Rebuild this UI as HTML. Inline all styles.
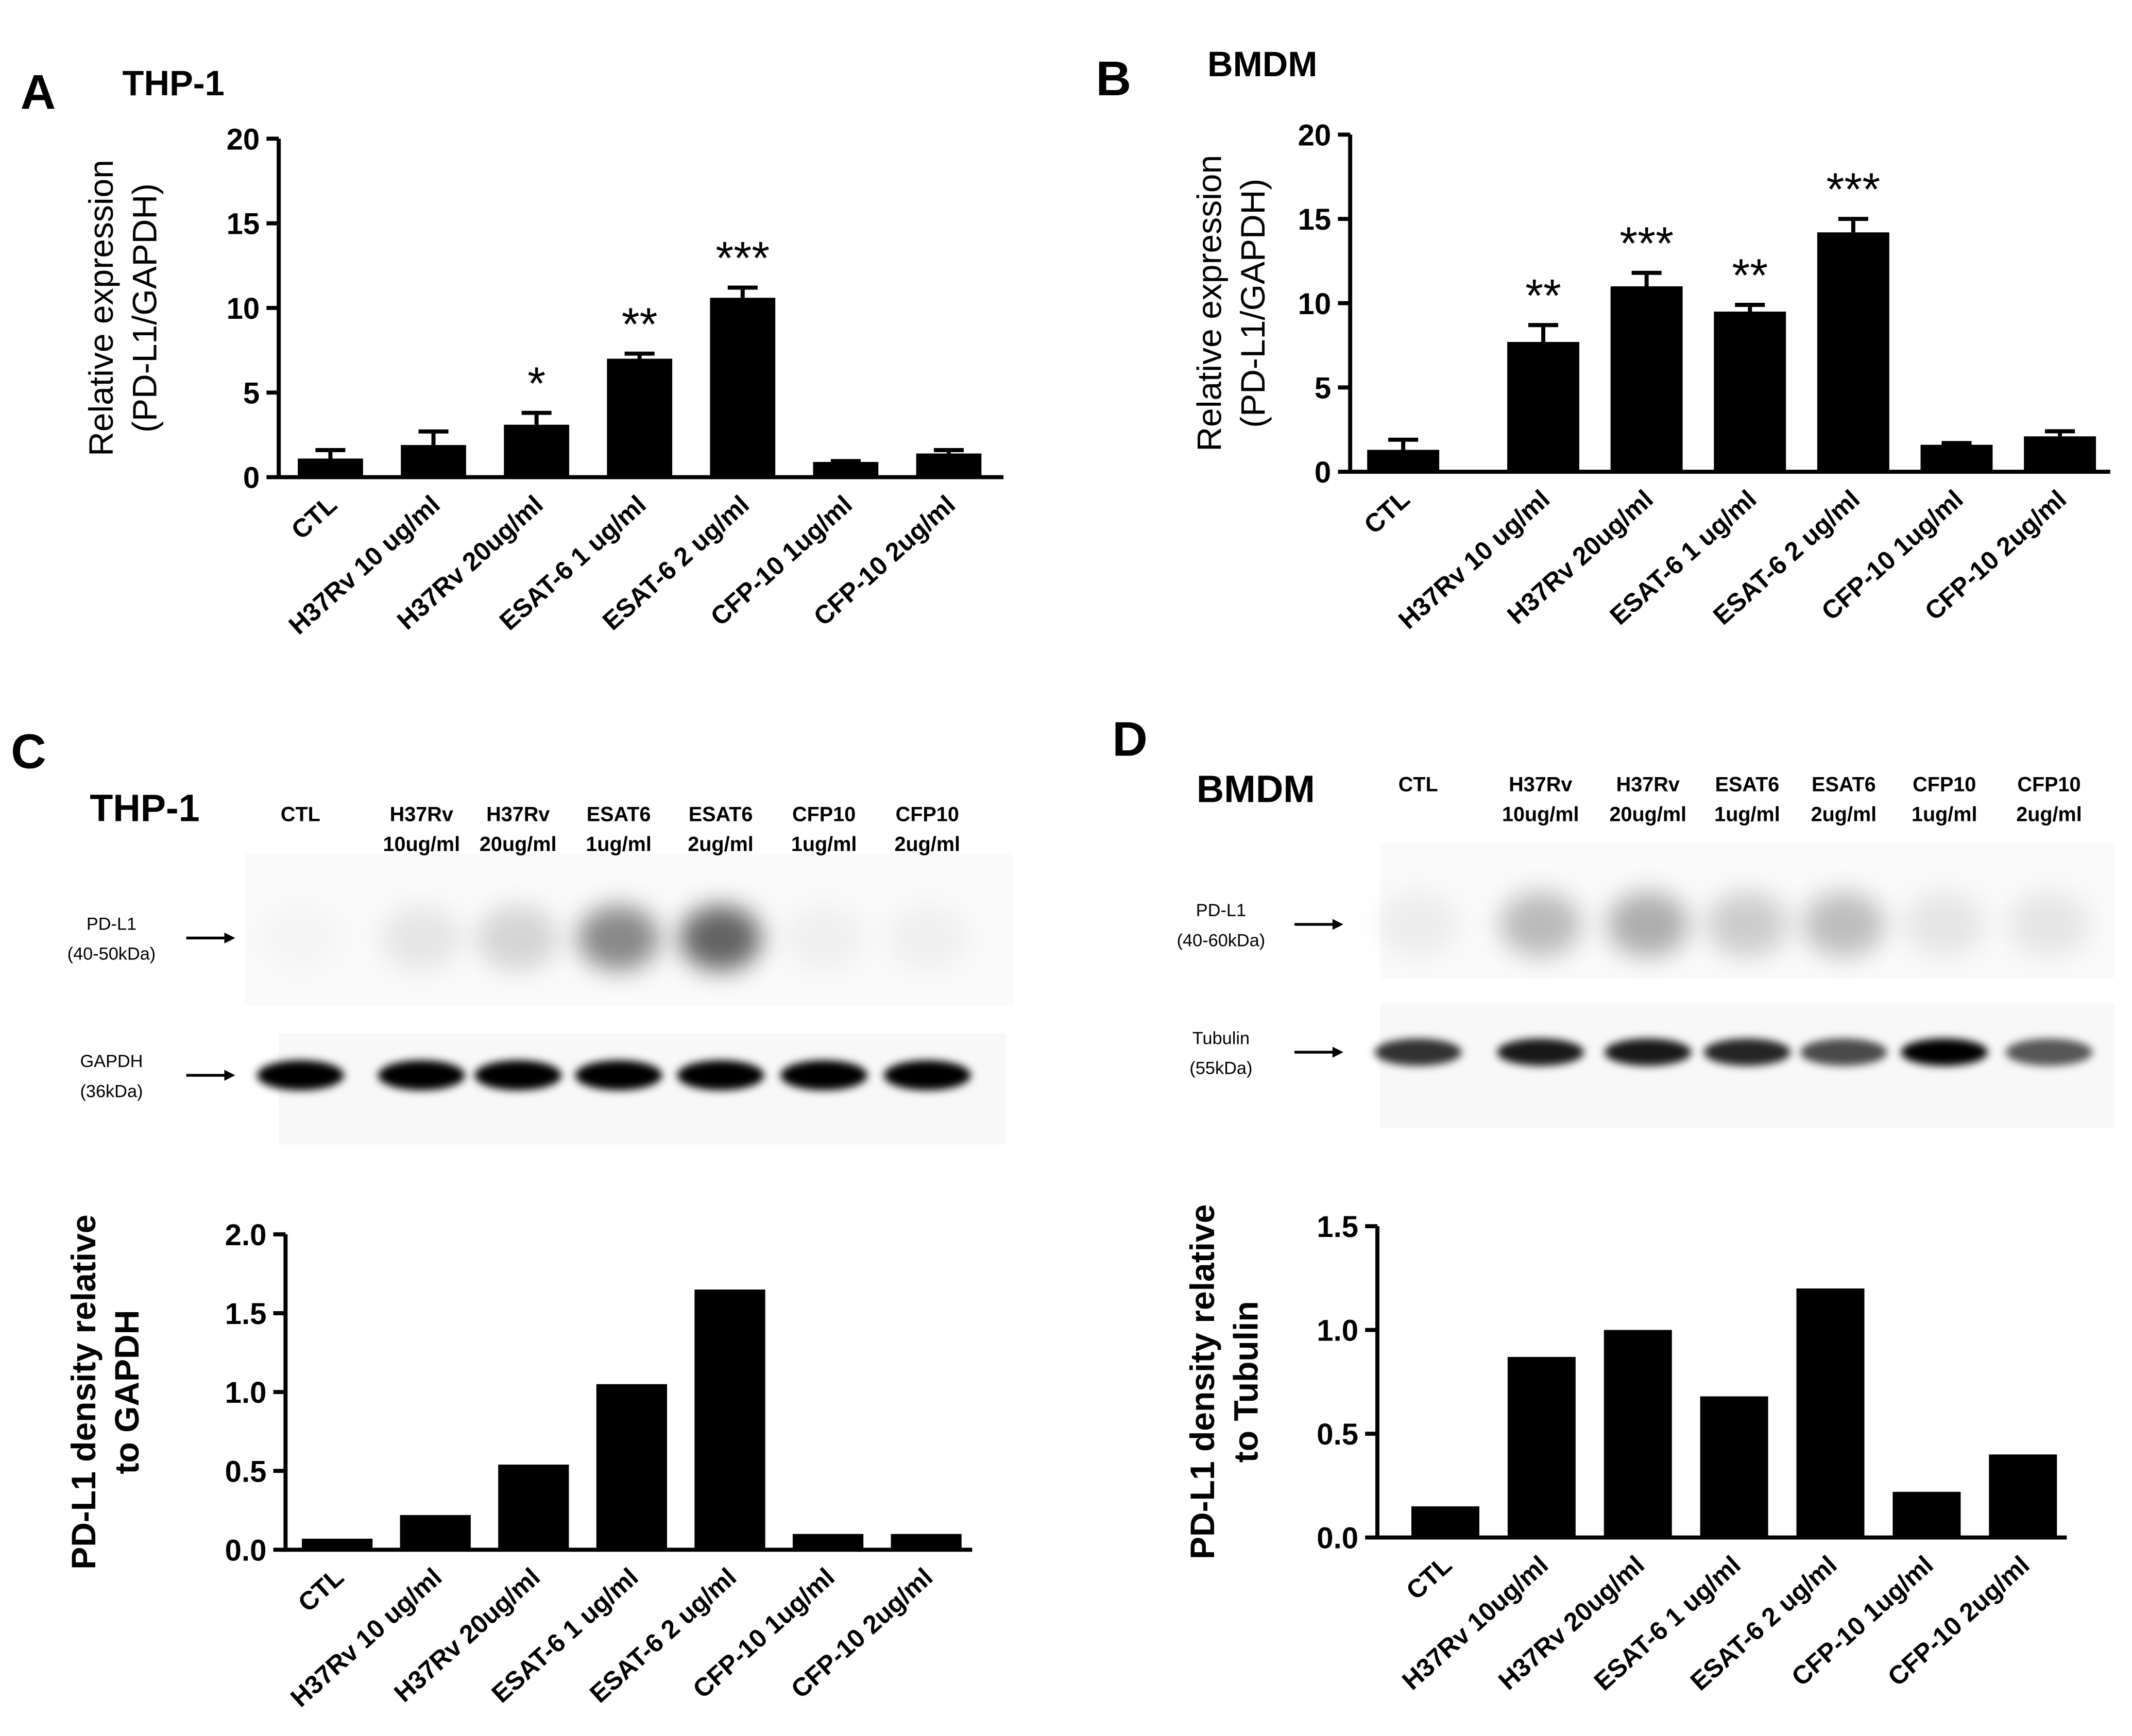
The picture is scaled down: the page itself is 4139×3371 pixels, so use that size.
<!DOCTYPE html>
<html><head><meta charset="utf-8"><style>
html,body{margin:0;padding:0;background:#fff}
svg{display:block}
text{font-family:"Liberation Sans",Arial,sans-serif;fill:#000}
</style></head><body>
<svg id="fig" width="4139" height="3371" viewBox="0 0 1568 1277" xmlns="http://www.w3.org/2000/svg">
<defs>
<filter id="blur3" x="-50%" y="-50%" width="200%" height="200%"><feGaussianBlur stdDeviation="3"/></filter>
<filter id="blur8" x="-50%" y="-50%" width="200%" height="200%"><feGaussianBlur stdDeviation="9"/></filter>
</defs>
<g id="root"></g>
</svg>
<script>
const catsA = ["CTL","H37Rv 10 ug/ml","H37Rv 20ug/ml","ESAT-6 1 ug/ml","ESAT-6 2 ug/ml","CFP-10 1ug/ml","CFP-10 2ug/ml"];
const valsA = [1.1,1.9,3.1,7.0,10.6,0.9,1.4];
const errA = [0.5,0.8,0.7,0.3,0.6,0.05,0.2];
const starsA = ["","","*","**","***","",""];
const catsB = ["CTL","H37Rv 10 ug/ml","H37Rv 20ug/ml","ESAT-6 1 ug/ml","ESAT-6 2 ug/ml","CFP-10 1ug/ml","CFP-10 2ug/ml"];
const valsB = [1.3,7.7,11.0,9.5,14.2,1.6,2.1];
const errB = [0.6,1.0,0.8,0.4,0.8,0.1,0.3];
const starsB = ["","**","***","**","***","",""];
const catsC = ["CTL","H37Rv 10 ug/ml","H37Rv 20ug/ml","ESAT-6 1 ug/ml","ESAT-6 2 ug/ml","CFP-10 1ug/ml","CFP-10 2ug/ml"];
const valsC = [0.07,0.22,0.54,1.05,1.65,0.1,0.1];
const catsD = ["CTL","H37Rv 10ug/ml","H37Rv 20ug/ml","ESAT-6 1 ug/ml","ESAT-6 2 ug/ml","CFP-10 1ug/ml","CFP-10 2ug/ml"];
const valsD = [0.15,0.87,1.0,0.68,1.2,0.22,0.40];
const ticksA = [0,5,10,15,20];
const ticksC = ["0.0","0.5","1.0","1.5","2.0"];
const ticksD = ["0.0","0.5","1.0","1.5"];
const blotCPD = [0.02,0.08,0.15,0.45,0.6,0.04,0.04];
const blotCG = [1,1,1,1,1,1,1];
const blotDPD = [0.05,0.25,0.3,0.18,0.24,0.08,0.08];
const blotDT = [0.8,0.9,0.9,0.85,0.7,1,0.65];

const NS="http://www.w3.org/2000/svg";
const root=document.getElementById('root');
function el(tag,attrs,parent,txt){const e=document.createElementNS(NS,tag);for(const k in attrs)e.setAttribute(k,attrs[k]);if(txt!==undefined)e.textContent=txt;(parent||root).appendChild(e);return e;}

function chart(cfg){
  const g=el('g',{});
  
  
  const y=v=>cfg.y0-(v/cfg.ymax)*(cfg.y0-cfg.ytop);
  const x=i=>(i===0&&cfg.first!==undefined)?cfg.first:cfg.x0c+i*cfg.step;
  const ax=el('path',{d:`M${cfg.ax},${cfg.ytop} V${cfg.y0} H${cfg.axEnd}`,stroke:'#000','stroke-width':3,fill:'none'},g);
  
  
  cfg.ticks.forEach(t=>{const v=parseFloat(t);
    el('line',{x1:cfg.ax-9,x2:cfg.ax,y1:y(v),y2:y(v),stroke:'#000','stroke-width':3},g);
    const tl=el('text',{x:cfg.ax-14,y:y(v)+8,'text-anchor':'end','font-size':22,'font-weight':'bold'},g,String(t));
    
    
  });
  cfg.vals.forEach((v,i)=>{
    const cx=x(i);
    const b=el('rect',{x:cx-cfg.bw/2,y:y(v),width:cfg.bw,height:cfg.y0-y(v),fill:'#000'},g);
    
    
    if(cfg.err){const e=cfg.err[i];
      el('line',{x1:cx,x2:cx,y1:y(v),y2:y(v+e),stroke:'#000','stroke-width':3},g);
      el('line',{x1:cx-11,x2:cx+11,y1:y(v+e),y2:y(v+e),stroke:'#000','stroke-width':3},g);
      if(cfg.stars[i]){const s=el('text',{x:cx,y:y(v+e)-10,'text-anchor':'middle','font-size':34},g,cfg.stars[i]);
        
        }
    }
    const lx=cx+6, ly=cfg.y0+22;
    const t=el('text',{x:lx,y:ly,'text-anchor':'end','font-size':19,'font-weight':'bold',transform:`rotate(-42 ${lx} ${ly})`},g,cfg.cats[i]);
    
    
  });
  const tx=cfg.titleX, ty=(cfg.y0+cfg.ytop)/2;
  const yt=el('text',{transform:`translate(${tx},${ty}) rotate(-90)`,'text-anchor':'middle','font-size':25,'font-weight':cfg.bold?'bold':'normal'},g);
  
  
  el('tspan',{x:0,dy:0},yt,cfg.t1);
  el('tspan',{x:0,dy:32},yt,cfg.t2);
}
chart({name:'chart-a',cats:catsA,vals:valsA,err:errA,stars:starsA,ticks:ticksA,ymax:20,y0:351,ytop:102,ax:205,axEnd:738,x0c:243,step:75.8,bw:48,titleX:83,t1:'Relative expression',t2:'(PD-L1/GAPDH)'});
chart({name:'chart-b',cats:catsB,vals:valsB,err:errB,stars:starsB,ticks:ticksA,ymax:20,y0:347,ytop:99,ax:993,axEnd:1552,first:1032,x0c:1059,step:76,bw:53,titleX:898,t1:'Relative expression',t2:'(PD-L1/GAPDH)'});
chart({name:'chart-c',cats:catsC,vals:valsC,ticks:ticksC,ymax:2,y0:1140,ytop:908,ax:210,axEnd:715,x0c:248,step:72.2,bw:52,titleX:70,bold:true,t1:'PD-L1 density relative',t2:'to GAPDH'});
chart({name:'chart-d',cats:catsD,vals:valsD,ticks:ticksD,ymax:1.5,y0:1131,ytop:902,ax:1013,axEnd:1520,x0c:1063,step:70.8,bw:50,titleX:893,bold:true,t1:'PD-L1 density relative',t2:'to Tubulin'});

function lbl(x,y,s,t,w,name,anchor){const e=el('text',{x:x,y:y,'font-size':s,'font-weight':w||'bold','text-anchor':anchor||'start'},root,t);return e;}
lbl(15,80,36,'A','bold','panel-label-a');lbl(90,70,26,'THP-1','bold','panel-title-a');
lbl(806,70,36,'B','bold','panel-label-b');lbl(888,56,26,'BMDM','bold','panel-title-b');
lbl(8,565,36,'C','bold','panel-label-c');lbl(66,604,28,'THP-1','bold','panel-title-c');
lbl(818,556,36,'D','bold','panel-label-d');lbl(880,590,28,'BMDM','bold','panel-title-d');

function blot(cfg){
  const g=el('g',{});
  
  
  el('rect',{x:cfg.bx,y:cfg.py1,width:cfg.bw,height:cfg.ph1,fill:'#fafafa'},g);
  el('rect',{x:cfg.bx2,y:cfg.py2,width:cfg.bw2,height:cfg.ph2,fill:'#f8f8f8'},g);
  cfg.lanes.forEach((c,i)=>{
    const hd=el('text',{x:c,y:cfg.hy,'text-anchor':'middle','font-size':15,'font-weight':'bold'},g,cfg.h1[i]);
    
    
    if(cfg.h2[i])el('text',{x:c,y:cfg.hy+22,'text-anchor':'middle','font-size':15,'font-weight':'bold'},g,cfg.h2[i]);
    const a=cfg.pd[i];
    el('ellipse',{cx:c,cy:cfg.pdy,rx:30,ry:24,fill:'#000','fill-opacity':a,filter:'url(#blur8)'},g);
    const b=cfg.lc[i];
    el('ellipse',{cx:c,cy:cfg.lcy,rx:32,ry:cfg.lry,fill:'#000','fill-opacity':b,filter:'url(#blur3)'},g);
  });
  [[cfg.n1,cfg.m1,cfg.pdy],[cfg.n2,cfg.m2,cfg.lcy]].forEach(([n,m,yy])=>{
    const t=el('text',{x:cfg.nx,y:yy-6,'text-anchor':'middle','font-size':13,fill:'#333'},g,n);
    
    
    el('text',{x:cfg.nx,y:yy+16,'text-anchor':'middle','font-size':13},g,m);
    el('line',{x1:cfg.ax1,x2:cfg.ax1+34,y1:yy,y2:yy,stroke:'#000','stroke-width':2},g);
    el('path',{d:`M${cfg.ax1+28},${yy-4} L${cfg.ax1+36},${yy} L${cfg.ax1+28},${yy+4}Z`,fill:'#000'},g);
  });
}
blot({name:'western-blot-c',bx:180,py1:628,bw:565,ph1:112,bx2:205,py2:760,bw2:535,ph2:82,
  lanes:[221,310,381,455,530,606,682],
  h1:['CTL','H37Rv','H37Rv','ESAT6','ESAT6','CFP10','CFP10'],h2:['','10ug/ml','20ug/ml','1ug/ml','2ug/ml','1ug/ml','2ug/ml'],hy:604,
  pd:blotCPD,pdy:690,lc:blotCG,lcy:791,lry:11,
  n1:'PD-L1',m1:'(40-50kDa)',n2:'GAPDH',m2:'(36kDa)',nx:82,ax1:137});
blot({name:'western-blot-d',bx:1015,py1:620,bw:540,ph1:100,bx2:1015,py2:738,bw2:540,ph2:92,
  lanes:[1043,1133,1212,1285,1356,1430,1507],
  h1:['CTL','H37Rv','H37Rv','ESAT6','ESAT6','CFP10','CFP10'],h2:['','10ug/ml','20ug/ml','1ug/ml','2ug/ml','1ug/ml','2ug/ml'],hy:582,
  pd:blotDPD,pdy:680,lc:blotDT,lcy:774,lry:10,
  n1:'PD-L1',m1:'(40-60kDa)',n2:'Tubulin',m2:'(55kDa)',nx:898,ax1:952});
</script>
</body></html>
